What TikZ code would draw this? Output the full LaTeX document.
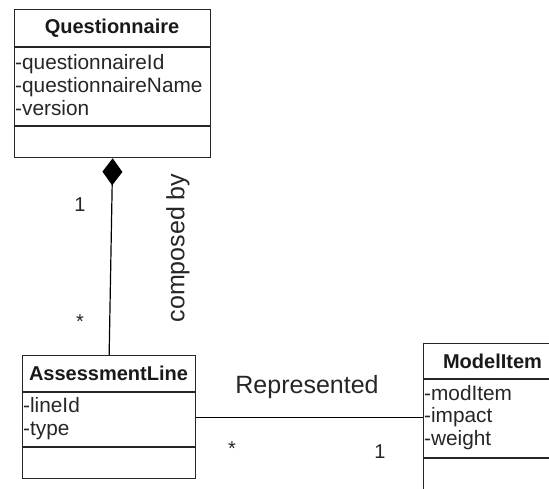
\documentclass[tikz,border=0pt]{standalone}
\usepackage{fontspec}
\setmainfont{Liberation Sans}
\usetikzlibrary{arrows.meta}

\tikzset{
  umlbox/.style={draw=black!85, line width=1.3pt, inner sep=0pt, fill=white},
  rule/.style={draw=black!85, line width=1.3pt},
  classname/.style={font=\fontsize{20}{24}\selectfont\bfseries, text=black!90, inner sep=0pt},
  attr/.style={font=\fontsize{20.8}{24}\selectfont, text=black!85, inner sep=0pt, anchor=base west},
  lbl/.style={font=\fontsize{20}{24}\selectfont, text=black!85, inner sep=0pt},
  biglbl/.style={font=\fontsize{25}{30}\selectfont, text=black!85, inner sep=0pt},
  link/.style={draw=black, line width=1.2pt},
}

\begin{document}
\begin{tikzpicture}[x=1pt, y=-1pt]
  \useasboundingbox[fill=white] (0,0) rectangle (549,489);
  \clip (0,0) rectangle (549,489);

  % Questionnaire class
  \node[umlbox, anchor=north west, minimum width=196pt, minimum height=148pt] (q) at (14,9) {};
  \draw[rule] (14,47) -- (210,47);
  \draw[rule] (14,126) -- (210,126);
  \node[classname] (qname) at (112,28) {Questionnaire};
  \node[attr] (qa1) at (15,70) {-questionnaireId};
  \node[attr] (qa2) at (15,93) {-questionnaireName};
  \node[attr] (qa3) at (15,116) {-version};

  % AssessmentLine class
  \node[umlbox, anchor=north west, minimum width=173pt, minimum height=123pt] (al) at (22,355) {};
  \draw[rule] (22,392) -- (195,392);
  \draw[rule] (22,447) -- (195,447);
  \node[classname] (alname) at (108.5,373.5) {AssessmentLine};
  \node[attr] (ala1) at (23,412) {-lineId};
  \node[attr] (ala2) at (23,435) {-type};

  % ModelItem class (runs past the right and bottom edges)
  \node[umlbox, anchor=north west, minimum width=139pt, minimum height=180pt] (mi) at (423,343) {};
  \draw[rule] (423,379) -- (562,379);
  \draw[rule] (423,458) -- (562,458);
  \node[classname] (miname) at (492.5,361) {ModelItem};
  \node[attr] (mia1) at (424,400) {-modItem};
  \node[attr] (mia2) at (424,422) {-impact};
  \node[attr] (mia3) at (424,445) {-weight};

  % composition: Questionnaire composed by AssessmentLine
  \draw[link, -{Diamond[length=27pt, width=20pt, line width=0pt]}] (al.north) -- (q.south);
  \node[lbl] (m1) at (80,205) {1};
  \node[lbl] (m2) at (80,322) {*};
  \node[biglbl, rotate=90] (comp) at (178,248) {composed by};

  % association: AssessmentLine represented by ModelItem
  \draw[link] (al.east) -- (al.east -| mi.west);
  \node[biglbl] (rep) at (307,387) {Represented};
  \node[lbl] (m3) at (232,449) {*};
  \node[lbl] (m4) at (380,452) {1};
\end{tikzpicture}
\end{document}
